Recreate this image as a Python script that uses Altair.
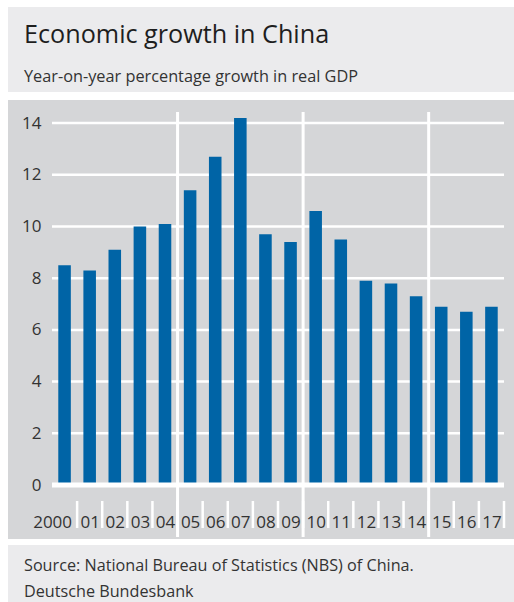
import altair as alt
import pandas as pd

YEARS = ["2000", "01", "02", "03", "04", "05", "06", "07", "08", "09",
         "10", "11", "12", "13", "14", "15", "16", "17"]
GROWTH = [8.5, 8.3, 9.1, 10.0, 10.1, 11.4, 12.7, 14.2, 9.7, 9.4,
          10.6, 9.5, 7.9, 7.8, 7.3, 6.9, 6.7, 6.9]
Y_TICKS = [0, 2, 4, 6, 8, 10, 12, 14]
GRID_TICKS = [2, 4, 6, 8, 10, 12, 14]
SEPARATORS = ["05", "10", "15"]

TITLE = "Economic growth in China"
SUBTITLE = "Year-on-year percentage growth in real GDP"
SOURCE_1 = "Source: National Bureau of Statistics (NBS) of China."
SOURCE_2 = "Deutsche Bundesbank"

FONT = "Open Sans"
BAR = "#0064a6"
PANEL_TOP = "#ebebed"
PANEL_PLOT = "#d5d6d8"
TXT = "#333333"

W, H = 452, 373

df = pd.DataFrame({"year": YEARS, "growth": GROWTH})
one = alt.Data(values=[{"a": 1}])

xscale = alt.Scale(domain=YEARS, paddingInner=0, paddingOuter=0)
yscale = alt.Scale(domain=[0, 14.43], nice=False, zero=True)

x_axis = alt.Axis(
    labelFont=FONT, labelFontSize=17, labelColor=TXT,
    labelAngle=0, ticks=False, tickSize=0, domain=False, grid=False,
    labelBaseline="alphabetic", labelPadding=42, zindex=2,
    labelAlign={"condition": {"test": "datum.value === '2000'", "value": "right"}, "value": "center"},
    labelOffset={"condition": {"test": "datum.value === '2000'", "value": 7.5}, "value": 0.5},
)
y_axis = alt.Axis(
    values=Y_TICKS, labelFont=FONT, labelFontSize=17,
    labelColor=TXT, ticks=False, tickSize=0, domain=False,
    grid=False, labelPadding=11, labelBaseline="middle", zindex=2,
)


def panel(x1, x2, y1, y2, color):
    return alt.Chart(one).mark_rect(color=color).encode(
        x=alt.value(x1), x2=alt.value(x2), y=alt.value(y1), y2=alt.value(y2)
    )


def label(text, x, y, size, color, weight="normal"):
    return alt.Chart(one).mark_text(
        text=text, align="left", baseline="alphabetic", font=FONT,
        fontSize=size, color=color, fontWeight=weight
    ).encode(x=alt.value(x), y=alt.value(y))


bg_title = panel(-44, 470, -105, -20, PANEL_TOP)
bg_plot = panel(-44, 470, -12, 427, PANEL_PLOT)
bg_foot = panel(-44, 470, 433, 500, PANEL_TOP)

grid = alt.Chart(pd.DataFrame({"v": GRID_TICKS})).mark_rule(
    color="white", strokeWidth=2.5
).encode(y=alt.Y("v:Q", scale=yscale, title=None, axis=y_axis))

seps = alt.Chart(pd.DataFrame({"year": SEPARATORS})).mark_rule(
    color="white", strokeWidth=3
).encode(
    x=alt.X("year:N", scale=xscale, bandPosition=0, title=None, axis=x_axis),
    y=alt.value(0), y2=alt.value(425)
)

small_ticks = alt.Chart(pd.DataFrame({"year": YEARS})).mark_rule(
    color="white", strokeWidth=2.5
).encode(
    x=alt.X("year:N", scale=xscale, bandPosition=1, title=None, axis=x_axis),
    y=alt.value(389), y2=alt.value(416)
)

bars = alt.Chart(df).mark_bar(
    color=BAR, width=alt.RelativeBandSize(0.5)
).encode(
    x=alt.X("year:N", scale=xscale, sort=None, title=None, axis=x_axis),
    y=alt.Y("growth:Q", scale=yscale, title=None, axis=y_axis),
)

zero = alt.Chart(pd.DataFrame({"v": [0]})).mark_rule(
    color="white", strokeWidth=5
).encode(y=alt.Y("v:Q", scale=yscale, title=None, axis=y_axis))

texts = [
    label(TITLE, -28, -69, 25.2, "#1e1e1e"),
    label(SUBTITLE, -28, -30, 16.3, TXT),
    label(SOURCE_1, -28, 459, 16.2, TXT),
    label(SOURCE_2, -28, 485, 16.2, TXT),
]

chart = alt.layer(
    bg_title, bg_plot, bg_foot, grid, seps, small_ticks, bars, zero, *texts
).properties(
    width=W, height=H,
    padding={"left": 52, "top": 112, "right": 10, "bottom": 117},
    autosize=alt.AutoSizeParams(type="none"),
    background="white",
).configure_view(stroke=None)

chart.save("out.html", embed_options={"renderer": "svg", "actions": False})
